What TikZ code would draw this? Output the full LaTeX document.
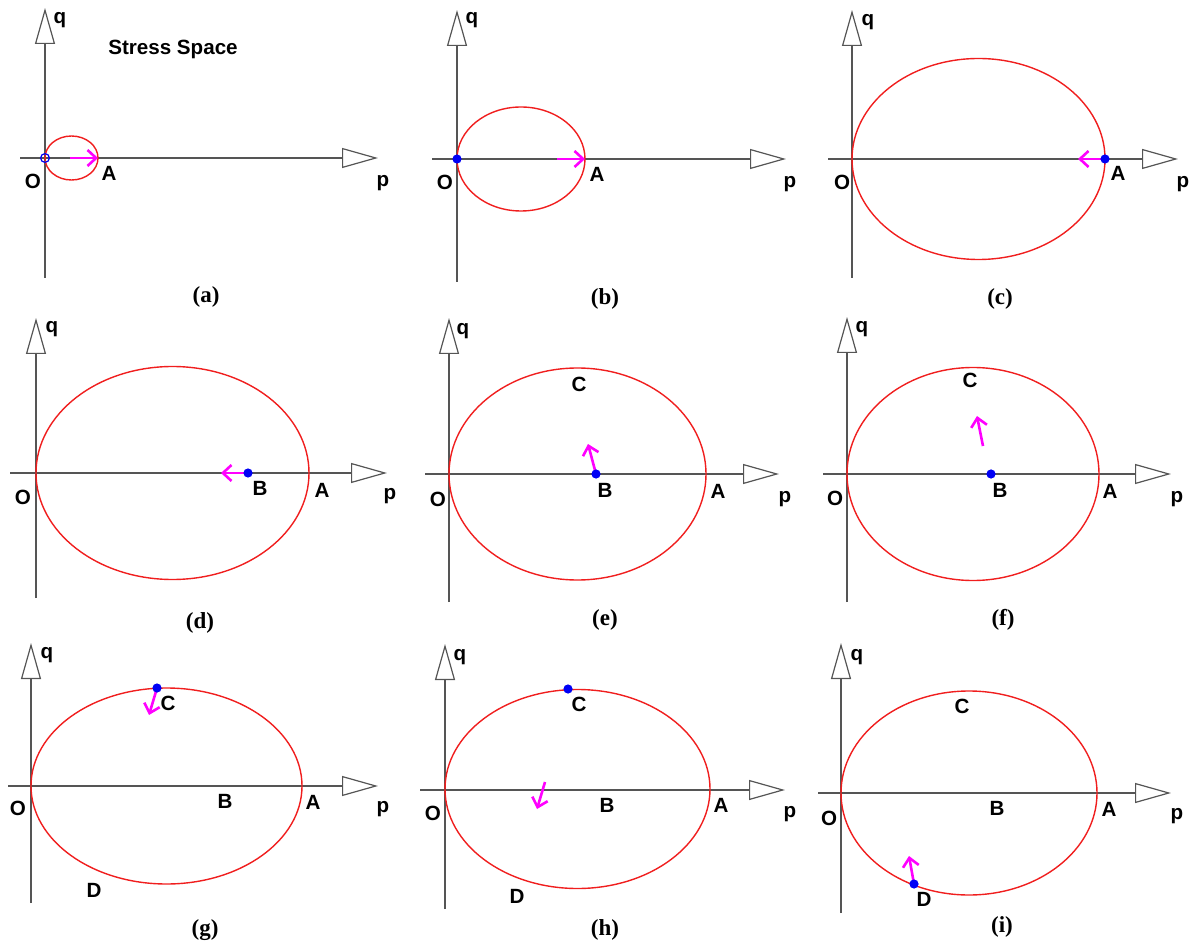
\documentclass[tikz,border=0pt]{standalone}
\usepackage{fontspec}
\setmainfont{Liberation Serif}
\setsansfont{Liberation Sans}
\usetikzlibrary{arrows.meta}
\definecolor{axisgray}{RGB}{85,85,85}
\definecolor{yieldred}{RGB}{240,30,30}
\definecolor{movemag}{RGB}{255,0,255}
\definecolor{ptblue}{RGB}{0,0,245}
\tikzset{
  axis/.style={draw=axisgray, line width=0.8pt, -{Triangle[length=18pt,width=10pt,fill=white,line width=0.6pt]}},
  yield/.style={draw=yieldred, line width=0.7pt},
  move/.style={draw=movemag, line width=1.3pt, -{Straight Barb[length=4.3pt,width=8pt]}},
  ptdot/.style={fill=ptblue},
  lab/.style={inner sep=0pt, font=\sffamily\bfseries\fontsize{10.3}{12}\selectfont},
  captxt/.style={inner sep=0pt, font=\rmfamily\bfseries\fontsize{11.5}{13}\selectfont}
}
\begin{document}
\begin{tikzpicture}[x=0.5pt,y=-0.5pt]
\path[use as bounding box] (0,0) rectangle (1192,951);
% ---------------- (a)
\coordinate (a-O) at (45,158);
\coordinate (a-qt) at (45,8);
\coordinate (a-qb) at (45,278);
\coordinate (a-pl) at (20,158);
\coordinate (a-pr) at (378,158);
\coordinate (a-c) at (71.5,158);
\coordinate (a-A) at (98,158);
\coordinate (a-s) at (70,158);
\draw[axis] (a-qb) -- (a-qt);
\draw[axis] (a-pl) -- (a-pr);
\draw[yield] (a-c) ellipse [x radius=26.5, y radius=22];
\draw[move] (a-s) -- (a-A);
\draw[ptblue, line width=0.6pt] (a-O) circle[radius=2.2pt];
\node[lab] (a-q) at (60,20) {q};
\node[lab] (a-t) at (173,49) {Stress Space};
\node[lab] (a-Ol) at (33,181) {O};
\node[lab] (a-Al) at (109,173) {A};
\node[lab] (a-p) at (383,183) {p};
\node[captxt] (a-cap) at (206,297) {(a)};
% ---------------- (b)
\coordinate (b-O) at (457,159);
\coordinate (b-qt) at (457,10);
\coordinate (b-qb) at (457,282);
\coordinate (b-pl) at (432,159);
\coordinate (b-pr) at (786,159);
\coordinate (b-c) at (521,159);
\coordinate (b-A) at (585,159);
\coordinate (b-s) at (557,159);
\draw[axis] (b-qb) -- (b-qt);
\draw[axis] (b-pl) -- (b-pr);
\draw[yield] (b-c) ellipse [x radius=64, y radius=52];
\draw[move] (b-s) -- (b-A);
\fill[ptdot] (b-O) circle[radius=2.3pt];
\node[lab] (b-q) at (472,20) {q};
\node[lab] (b-Ol) at (445,182) {O};
\node[lab] (b-Al) at (597,174) {A};
\node[lab] (b-p) at (790,184) {p};
\node[captxt] (b-cap) at (605,299) {(b)};
% ---------------- (c)
\coordinate (c-O) at (852,159);
\coordinate (c-qt) at (852,10);
\coordinate (c-qb) at (852,278);
\coordinate (c-pl) at (828,159);
\coordinate (c-pr) at (1178,159);
\coordinate (c-c) at (978.5,159);
\coordinate (c-A) at (1105,159);
\coordinate (c-s) at (1078,159);
\draw[axis] (c-qb) -- (c-qt);
\draw[axis] (c-pl) -- (c-pr);
\draw[yield] (c-c) ellipse [x radius=126.5, y radius=100.5];
\draw[move] (c-A) -- (c-s);
\fill[ptdot] (c-A) circle[radius=2.3pt];
\node[lab] (c-q) at (868,22) {q};
\node[lab] (c-Ol) at (842,182) {O};
\node[lab] (c-Al) at (1118,173) {A};
\node[lab] (c-p) at (1183,184) {p};
\node[captxt] (c-cap) at (1000,299) {(c)};
% ---------------- (d)
\coordinate (d-O) at (36,473);
\coordinate (d-qt) at (36,318);
\coordinate (d-qb) at (36,598);
\coordinate (d-pl) at (10,473);
\coordinate (d-pr) at (387,473);
\coordinate (d-c) at (172.5,473);
\coordinate (d-B) at (248,473);
\coordinate (d-s) at (221,473);
\draw[axis] (d-qb) -- (d-qt);
\draw[axis] (d-pl) -- (d-pr);
\draw[yield] (d-c) ellipse [x radius=136.5, y radius=106.5];
\draw[move] (d-B) -- (d-s);
\fill[ptdot] (d-B) circle[radius=2.3pt];
\node[lab] (d-q) at (52,329) {q};
\node[lab] (d-Ol) at (23,497) {O};
\node[lab] (d-Bl) at (260,488) {B};
\node[lab] (d-Al) at (322,490) {A};
\node[lab] (d-p) at (390,496) {p};
\node[captxt] (d-cap) at (200,623) {(d)};
% ---------------- (e)
\coordinate (e-O) at (449,474);
\coordinate (e-qt) at (449,318);
\coordinate (e-qb) at (449,602);
\coordinate (e-pl) at (425,474);
\coordinate (e-pr) at (779,474);
\coordinate (e-c) at (577.5,474);
\coordinate (e-B) at (596,474);
\coordinate (e-s) at (588,444);
\draw[axis] (e-qb) -- (e-qt);
\draw[axis] (e-pl) -- (e-pr);
\draw[yield] (e-c) ellipse [x radius=128.5, y radius=106];
\draw[move] (e-B) -- (e-s);
\fill[ptdot] (e-B) circle[radius=2.3pt];
\node[lab] (e-q) at (463,331) {q};
\node[lab] (e-Cl) at (579,384) {C};
\node[lab] (e-Ol) at (438,499) {O};
\node[lab] (e-Bl) at (605,490) {B};
\node[lab] (e-Al) at (718,491) {A};
\node[lab] (e-p) at (785,499) {p};
\node[captxt] (e-cap) at (605,620) {(e)};
% ---------------- (f)
\coordinate (f-O) at (847,474);
\coordinate (f-qt) at (847,317);
\coordinate (f-qb) at (847,602);
\coordinate (f-pl) at (823,474);
\coordinate (f-pr) at (1171,474);
\coordinate (f-c) at (973,474);
\coordinate (f-B) at (991,474);
\coordinate (f-s0) at (983,446);
\coordinate (f-s) at (977,416);
\draw[axis] (f-qb) -- (f-qt);
\draw[axis] (f-pl) -- (f-pr);
\draw[yield] (f-c) ellipse [x radius=126, y radius=106.5];
\draw[move] (f-s0) -- (f-s);
\fill[ptdot] (f-B) circle[radius=2.3pt];
\node[lab] (f-q) at (862,329) {q};
\node[lab] (f-Cl) at (970,380) {C};
\node[lab] (f-Ol) at (835,498) {O};
\node[lab] (f-Bl) at (1000,490) {B};
\node[lab] (f-Al) at (1110,491) {A};
\node[lab] (f-p) at (1177,499) {p};
\node[captxt] (f-cap) at (1003,620) {(f)};
% ---------------- (g)
\coordinate (g-O) at (31,786);
\coordinate (g-qt) at (31,643);
\coordinate (g-qb) at (31,903);
\coordinate (g-pl) at (8,786);
\coordinate (g-pr) at (378,786);
\coordinate (g-c) at (166.5,786);
\coordinate (g-C) at (157,688);
\coordinate (g-s) at (149,715);
\draw[axis] (g-qb) -- (g-qt);
\draw[axis] (g-pl) -- (g-pr);
\draw[yield] (g-c) ellipse [x radius=135.5, y radius=98];
\draw[move] (g-C) -- (g-s);
\fill[ptdot] (g-C) circle[radius=2.3pt];
\node[lab] (g-q) at (47,655) {q};
\node[lab] (g-Cl) at (168,703) {C};
\node[lab] (g-Ol) at (18,808) {O};
\node[lab] (g-Bl) at (225,801) {B};
\node[lab] (g-Al) at (313,802) {A};
\node[lab] (g-p) at (383,809) {p};
\node[lab] (g-Dl) at (94,890) {D};
\node[captxt] (g-cap) at (205,930) {(g)};
% ---------------- (h)
\coordinate (h-O) at (445,790);
\coordinate (h-qt) at (445,644);
\coordinate (h-qb) at (445,909);
\coordinate (h-pl) at (420,790);
\coordinate (h-pr) at (785,790);
\coordinate (h-c) at (577.5,789);
\coordinate (h-C) at (568,689);
\coordinate (h-s0) at (545,782);
\coordinate (h-s) at (537,809);
\draw[axis] (h-qb) -- (h-qt);
\draw[axis] (h-pl) -- (h-pr);
\draw[yield] (h-c) ellipse [x radius=132.5, y radius=99.5];
\draw[move] (h-s0) -- (h-s);
\fill[ptdot] (h-C) circle[radius=2.3pt];
\node[lab] (h-q) at (460,657) {q};
\node[lab] (h-Cl) at (579,704) {C};
\node[lab] (h-Ol) at (433,813) {O};
\node[lab] (h-Bl) at (607,805) {B};
\node[lab] (h-Al) at (721,805) {A};
\node[lab] (h-p) at (790,814) {p};
\node[lab] (h-Dl) at (517,896) {D};
\node[captxt] (h-cap) at (605,930) {(h)};
% ---------------- (i)
\coordinate (i-O) at (841,793);
\coordinate (i-qt) at (841,643);
\coordinate (i-qb) at (841,913);
\coordinate (i-pl) at (818,793);
\coordinate (i-pr) at (1171,793);
\coordinate (i-c) at (969,793);
\coordinate (i-D) at (914,884);
\coordinate (i-s) at (909,856);
\draw[axis] (i-qb) -- (i-qt);
\draw[axis] (i-pl) -- (i-pr);
\draw[yield] (i-c) ellipse [x radius=128, y radius=102];
\draw[move] (i-D) -- (i-s);
\fill[ptdot] (i-D) circle[radius=2.3pt];
\node[lab] (i-q) at (857,657) {q};
\node[lab] (i-Cl) at (962,706) {C};
\node[lab] (i-Ol) at (829,818) {O};
\node[lab] (i-Bl) at (997,808) {B};
\node[lab] (i-Al) at (1109,809) {A};
\node[lab] (i-p) at (1177,816) {p};
\node[lab] (i-Dl) at (924,899) {D};
\node[captxt] (i-cap) at (1002,927) {(i)};
\end{tikzpicture}
\end{document}
